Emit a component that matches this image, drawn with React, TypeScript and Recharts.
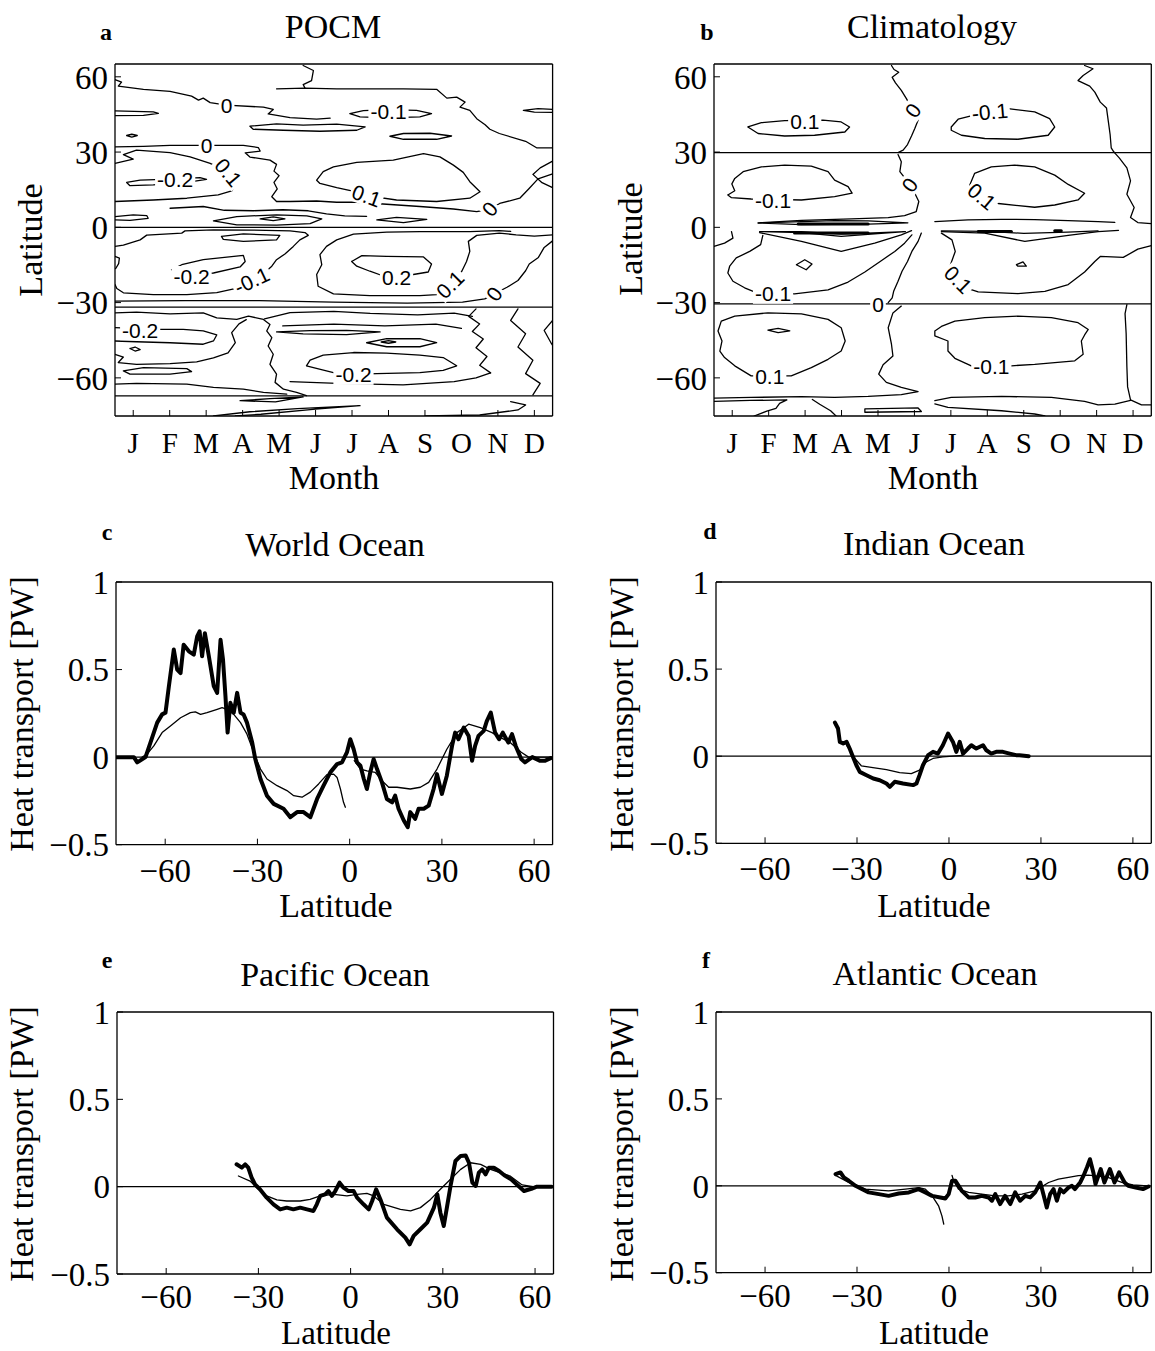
import React from "react";
import { ComposedChart, Line, Scatter, XAxis, YAxis, ReferenceLine } from "recharts";

const SERIF = '"Liberation Serif", "Times New Roman", Times, serif';
const SANS = '"Liberation Sans", Arial, Helvetica, sans-serif';

// ---- axes ----
const MONTHS = ["J", "F", "M", "A", "M", "J", "J", "A", "S", "O", "N", "D"];
const MONTH_TICKS = [1, 2, 3, 4, 5, 6, 7, 8, 9, 10, 11, 12];
const LAT_TICKS = [-60, -30, 0, 30, 60];
const PW_TICKS = [-0.5, 0, 0.5, 1];
const MONTH_DOMAIN: [number, number] = [0.5, 12.5];
const CONTOUR_LAT: [number, number] = [-75.2, 65.1];
const LINE_LAT: [number, number] = [-76, 66];
const PW_DOMAIN: [number, number] = [-0.5, 1];

// ---- panel a: POCM contours, [month, latitude] ----
const pTop0 = [[0.5, 58.9], [0.68, 57.9], [0.59, 56.3], [1.28, 55.0], [2.01, 54.2], [2.6, 52.3], [2.79, 50.7], [2.92, 51.5], [3.11, 49.7], [3.56, 48.7], [4.57, 47.9], [4.84, 47.0], [4.7, 45.2], [5.3, 43.7], [6.03, 43.1], [6.4, 43.5]];
const pTopWiggle = [[5.66, 64.5], [5.94, 62.5], [5.89, 58.5], [5.66, 56.9], [5.71, 55.5]];
const pTop55 = [[4.93, 55.2], [5.71, 55.5], [6.58, 55.2], [7.49, 55.2], [8.41, 55.2], [9.32, 55.0], [9.6, 51.5], [9.87, 51.9], [10.1, 49.9], [9.96, 47.9], [10.23, 46.6], [10.42, 43.3], [10.65, 40.9], [10.78, 39.1], [11.04, 37.4], [11.76, 34.3], [12.06, 31.7], [12.5, 31.7]];
const pEllA = [[6.94, 45.3], [7.31, 46.5], [7.95, 46.9], [8.77, 46.6], [9.18, 45.3], [8.86, 44.0], [7.95, 43.6], [7.22, 44.0], [6.94, 45.3]];
const pEllB = [[4.2, 40.3], [4.93, 41.2], [5.66, 40.7], [6.58, 41.1], [7.36, 40.0], [7.13, 38.7], [6.12, 38.3], [5.12, 38.7], [4.29, 39.1], [4.2, 40.3]];
const pEllC = [[8.04, 36.3], [8.41, 37.4], [9.14, 37.5], [9.73, 36.4], [9.32, 35.1], [8.41, 35.1], [8.04, 36.3]];
const pEllD = [[0.5, 46.4], [1.55, 46.0], [1.69, 45.4], [1.28, 44.6], [0.5, 44.5]];
const pEllE = [[0.82, 36.6], [0.96, 37.1], [1.11, 36.6], [0.96, 36.0], [0.82, 36.6]];
const pEllF = [[11.7, 46.6], [12.1, 47.3], [12.5, 47.0], [12.5, 45.8], [12.0, 45.9], [11.7, 46.6]];
const pMid0 = [[0.5, 32.1], [1.28, 32.3], [2.01, 32.7], [3.01, 32.7], [4.02, 32.7], [4.43, 31.8], [4.48, 30.4], [4.07, 29.7], [4.2, 28.0], [4.75, 26.8], [4.93, 25.1], [4.86, 22.4], [5.0, 20.6], [4.86, 17.9], [4.95, 15.3], [4.8, 12.2], [4.93, 10.3], [5.3, 10.3], [6.03, 10.5], [6.58, 10.0], [7.13, 10.0], [7.95, 9.2], [8.86, 8.3], [9.78, 7.3], [10.42, 6.3], [10.78, 7.3], [11.05, 9.5], [11.6, 11.6], [11.85, 15.4], [12.1, 19.3], [12.5, 21.3]];
const pP01 = [[0.5, 25.5], [1.0, 27.2], [0.73, 29.0], [1.09, 30.8], [2.01, 29.8], [2.56, 28.1], [3.11, 25.5], [3.61, 21.9], [3.88, 18.5], [3.79, 16.6], [3.7, 14.5], [3.33, 12.9], [2.47, 11.6], [1.55, 10.9], [0.5, 10.3]];
const pM02 = [[0.82, 17.9], [1.19, 18.8], [2.01, 19.2], [2.83, 19.8], [3.01, 19.1], [2.47, 17.9], [1.55, 16.9], [0.91, 16.6], [0.82, 17.9]];
const pBig01 = [[6.03, 18.8], [6.21, 22.2], [6.49, 24.1], [7.13, 25.9], [8.13, 26.8], [8.96, 29.4], [9.41, 28.1], [9.78, 24.8], [10.05, 21.9], [10.23, 18.2], [10.51, 14.2], [10.23, 11.6], [9.32, 10.3], [8.22, 10.9], [7.4, 12.6], [6.99, 14.5], [6.58, 15.8], [6.12, 17.5], [6.03, 18.8]];
const pNEdge = [[12.5, 26.4], [12.16, 23.7], [11.96, 21.1], [12.21, 17.8], [12.5, 15.8]];
const pEqA = [[0.5, 4.3], [1.0, 5.0], [1.37, 4.7], [1.41, 3.6], [0.91, 2.8], [0.5, 3.0]];
const pEqLine = [[2.01, 7.6], [2.92, 8.3], [3.5, 6.8], [4.3, 6.6], [5.1, 7.0], [5.8, 6.6], [6.3, 5.4], [6.8, 4.6], [7.4, 4.4]];
const pEqB = [[3.2, 2.6], [3.84, 4.3], [4.93, 5.0], [5.76, 4.6], [6.17, 3.4], [5.85, 1.5], [4.93, 0.9], [3.84, 1.0], [3.2, 2.6]];
const pEqC = [[4.48, 3.4], [4.84, 4.2], [5.16, 3.4], [4.84, 2.7], [4.48, 3.4]];
const pEqD = [[7.68, 3.0], [8.22, 4.0], [9.05, 3.2], [8.41, 1.9], [7.68, 3.0]];
const pEquator = [[0.5, 0], [12.5, 0]];
const pS01 = [[0.5, -7.6], [0.73, -7.1], [1.19, -5.0], [1.37, -3.1], [2.33, -2.3], [2.42, -1.4], [3.2, -1.0], [4.29, -1.1], [5.3, -1.4], [5.71, -2.1], [5.8, -3.2], [5.57, -5.0], [5.39, -7.6], [5.16, -10.6], [4.93, -12.9], [4.8, -15.5], [4.66, -17.3], [4.25, -21.2], [3.79, -24.4], [3.29, -26.0], [2.47, -26.8], [1.55, -26.8], [0.73, -26.1], [0.55, -24.4], [0.5, -22.8]];
const pSEdge = [[0.5, -11.6], [0.62, -12.3], [0.6, -14.5], [0.52, -16.4], [0.5, -16.5]];
const pSEll = [[3.42, -3.6], [4.02, -2.6], [5.02, -3.2], [4.93, -5.0], [4.02, -5.6], [3.47, -4.8], [3.42, -3.6]];
const pS02 = [[2.05, -16.9], [2.33, -14.9], [2.92, -12.9], [4.02, -11.2], [4.07, -13.6], [3.93, -15.8], [3.2, -18.2], [2.65, -18.8], [2.05, -16.9]];
const pS01r = [[12.5, -3.0], [12.0, -3.5], [11.5, -3.0], [11.04, -2.3], [10.42, -3.2], [10.19, -5.6], [10.23, -9.6], [10.14, -13.6], [10.01, -17.5], [9.69, -22.8], [9.32, -26.8], [8.86, -27.2], [7.49, -27.2], [6.49, -26.5], [6.07, -23.5], [6.03, -18.8], [6.17, -14.9], [6.12, -10.9], [6.3, -7.6], [6.58, -5.0], [7.04, -2.7], [7.95, -1.9], [8.86, -1.7], [10.23, -1.7], [11.04, -1.3], [11.35, -1.6]];
const pS02r = [[6.99, -13.6], [7.27, -11.3], [7.95, -11.6], [8.96, -11.8], [9.18, -14.6], [9.09, -17.8], [8.68, -18.8], [8.22, -20.0], [7.86, -19.4], [7.49, -17.5], [7.13, -15.5], [6.99, -13.6]];
const pS0r = [[12.5, -5.4], [12.27, -8.0], [12.11, -12.0], [11.86, -14.6], [11.76, -17.3], [11.55, -21.2], [11.25, -23.9], [10.9, -26.5], [10.64, -28.5], [10.03, -29.8], [8.51, -30.2], [6.48, -29.8], [4.46, -29.2], [2.43, -29.2], [0.5, -29.4]];
const pS30 = [[0.5, -31.8], [12.5, -31.8]];
const pSa = [[0.5, -34.1], [1.09, -33.8], [2.01, -34.5], [2.92, -34.1], [3.29, -36.1], [3.84, -36.7], [4.16, -35.4], [4.57, -36.7], [4.75, -38.7], [4.66, -41.3], [4.8, -44.0], [4.7, -47.3], [4.84, -50.6], [4.75, -54.6], [4.93, -58.5], [4.89, -61.8], [5.12, -64.5], [5.48, -65.8], [5.75, -67.1]];
const pSb = [[4.6, -36.5], [5.3, -34.0], [6.5, -33.5], [7.5, -34.3], [8.8, -34.9], [9.8, -34.2], [10.3, -35.5]];
const pSc = [[5.1, -39.3], [6.5, -38.6], [7.9, -39.3], [9.3, -38.6], [10.0, -40.3]];
const pS02l = [[0.5, -40.0], [1.69, -40.7], [2.37, -40.7], [2.92, -41.3], [3.29, -42.9], [3.2, -45.3], [2.92, -46.6], [2.01, -46.0], [1.09, -45.6], [0.5, -45.3]];
const pSDot = [[0.91, -48.3], [1.05, -47.7], [1.19, -48.7], [1.05, -49.3], [0.91, -48.3]];
const pSd = [[0.5, -50.6], [0.73, -51.7], [0.59, -53.9], [1.09, -54.6], [2.01, -54.3], [2.74, -53.6], [3.2, -52.0], [3.6, -50.0], [3.8, -46.0], [3.7, -42.0], [3.9, -38.5], [4.1, -36.8]];
const pSEll2 = [[0.73, -57.2], [1.28, -55.9], [2.47, -56.3], [2.6, -57.5], [2.01, -58.5], [0.91, -58.5], [0.73, -57.2]];
const pSe = [[0.5, -62.5], [1.09, -62.2], [2.47, -62.5], [3.2, -63.8], [4.02, -64.5], [4.57, -65.8], [5.21, -66.5]];
const pSEll3 = [[4.93, -41.7], [5.85, -41.2], [6.85, -41.1], [7.77, -41.7], [6.85, -42.8], [5.66, -42.5], [4.93, -41.7]];
const pSEll4 = [[7.4, -46.0], [7.95, -44.4], [8.86, -44.4], [9.32, -46.0], [8.86, -47.6], [7.95, -47.6], [7.4, -46.0]];
const pSEll5 = [[7.8, -45.7], [8.0, -45.2], [8.2, -45.7], [8.0, -46.2], [7.8, -45.7]];
const pS02b = [[5.75, -55.2], [6.49, -57.9], [7.04, -58.6], [7.68, -58.3], [8.86, -57.9], [9.5, -57.0], [9.87, -55.2], [9.5, -51.9], [8.86, -50.9], [7.95, -50.1], [7.04, -49.9], [6.21, -50.9], [5.85, -52.9], [5.75, -55.2]];
const pSf = [[5.3, -61.5], [6.6, -62.2], [8.4, -62.8], [9.8, -61.5], [10.4, -60.0], [10.8, -58.0]];
const pSg = [[10.4, -32.5], [10.2, -35.5], [10.5, -38.5], [10.3, -41.5], [10.6, -44.5], [10.4, -48.0], [10.7, -51.5], [10.5, -55.0], [10.8, -58.0]];
const pSh = [[11.55, -32.5], [11.35, -37.1], [11.76, -42.4], [11.55, -47.7], [11.96, -53.0], [11.76, -58.3], [12.16, -62.2], [11.96, -66.8]];
const pSi = [[12.5, -37.1], [12.27, -41.1], [12.47, -46.4], [12.5, -47.0]];
const pS67 = [[0.5, -67.2], [12.5, -67.2]];
const pBotA = [[3.93, -69.1], [4.75, -68.3], [5.66, -67.6], [4.9, -69.6], [3.93, -69.1]];
const pBotB = [[3.2, -75.2], [4.2, -73.5], [5.5, -72.3], [7.22, -71.1], [6.0, -72.5], [4.5, -74.5], [3.8, -75.2]];
const pBotC = [[11.35, -69.5], [11.76, -70.8], [11.55, -72.8], [10.5, -74.8], [9.0, -75.2]];

const pocmLines = [pTop0, pTopWiggle, pTop55, pEllA, pEllB, pEllC, pEllD, pEllE, pEllF, pMid0, pP01, pM02, pBig01, pNEdge, pEqA, pEqLine, pEqB, pEqC, pEqD, pEquator, pS01, pSEdge, pSEll, pS02, pS01r, pS02r, pS0r, pS30, pSa, pSb, pSc, pS02l, pSDot, pSd, pSEll2, pSe, pSEll3, pSEll4, pSEll5, pS02b, pSf, pSg, pSh, pSi, pS67, pBotA, pBotB, pBotC];

// contour labels: [month, latitude, text, angle]
const pocmLabels: [number, number, string, number][] = [
  [3.56, 48.7, "0", 0], [8.0, 46.2, "-0.1", 0], [3.01, 32.7, "0", 0], [2.15, 19.2, "-0.2", 0],
  [3.61, 21.9, "0.1", 50], [7.4, 12.6, "0.1", 20], [10.78, 7.3, "0", -50], [2.6, -19.4, "-0.2", 0],
  [4.25, -21.2, "-0.1", -25], [8.22, -20.0, "0.2", 0], [9.69, -22.8, "0.1", -45], [10.9, -26.5, "0", -55],
  [1.19, -41.0, "-0.2", 0], [7.04, -58.8, "-0.2", 0],
];

// ---- panel b: climatology contours ----
const c30 = [[0.5, 29.8], [12.5, 29.8]];
const cM30 = [[0.5, -30.5], [12.5, -30.5]];
const cTopL = [[1.43, 40.0], [1.8, 41.7], [2.44, 42.5], [3.49, 42.7], [3.99, 42.0], [4.22, 40.0], [4.09, 38.0], [3.26, 36.7], [2.44, 36.4], [1.71, 37.4], [1.43, 40.0]];
const cTopR = [[7.01, 40.0], [7.2, 43.1], [7.61, 44.6], [8.57, 47.3], [9.3, 46.0], [9.71, 43.3], [9.85, 40.0], [9.67, 36.7], [8.84, 35.1], [7.93, 35.4], [7.29, 36.7], [7.01, 38.7], [7.01, 40.0]];
const cTop0 = [[5.37, 64.5], [5.44, 62.9], [5.57, 61.8], [5.39, 59.8], [5.48, 57.6], [5.64, 54.6], [5.78, 51.3], [5.96, 46.6], [6.1, 42.7], [6.01, 39.4], [5.92, 36.4], [5.81, 33.0], [5.69, 30.8], [5.55, 29.8]];
const cTopEdge = [[10.67, 64.5], [10.9, 63.2], [10.63, 60.5], [10.49, 58.5], [10.81, 56.3], [10.95, 53.9], [11.1, 49.9], [11.27, 47.6], [11.32, 42.3], [11.37, 37.0], [11.4, 31.7], [11.47, 30.1]];
const cMidL = [[0.88, 12.9], [1.07, 14.6], [0.99, 17.3], [1.07, 19.5], [1.3, 22.2], [1.8, 24.1], [2.44, 24.8], [3.17, 24.4], [3.63, 22.2], [3.81, 18.8], [4.18, 16.2], [4.29, 13.6], [3.81, 12.2], [2.9, 10.9], [1.52, 11.3], [0.98, 11.8], [0.88, 12.9]];
const cMidR = [[7.56, 14.8], [7.52, 16.9], [7.65, 21.5], [8.11, 24.1], [8.75, 24.8], [9.3, 24.1], [9.85, 20.8], [10.22, 17.1], [10.67, 13.6], [10.49, 10.9], [9.85, 8.9], [9.3, 8.0], [8.3, 9.5], [7.85, 12.3], [7.56, 14.8]];
const cMid0 = [[5.55, 29.0], [5.64, 26.1], [5.6, 22.2], [5.73, 19.8], [6.01, 13.6], [6.12, 10.3], [6.05, 6.3], [5.73, 4.7], [5.28, 3.9], [4.27, 3.4], [2.9, 2.8], [1.71, 1.8]];
const cEqR = [[6.56, 2.3], [7.47, 3.0], [8.39, 3.2], [9.3, 3.1], [10.22, 2.7], [11.04, 2.3], [11.5, 2.0]];
const cEdgeR = [[11.47, 30.1], [11.62, 27.7], [11.83, 23.7], [11.93, 18.5], [11.83, 13.2], [12.03, 7.9], [11.93, 3.9], [12.13, 1.9], [12.5, 1.5]];
const cEqL = [[1.71, 1.7], [2.9, 2.3], [3.81, 2.7], [4.73, 2.6], [5.82, 1.8], [4.73, 1.3], [2.9, 1.1], [1.71, 1.7]];
const cV1 = [[1.75, -1.7], [2.9, -2.1], [3.99, -3.6], [5.09, -2.4], [5.75, -1.7], [3.99, -2.7], [2.9, -1.7], [1.75, -1.7]];
const cV2 = [[1.75, -2.1], [2.9, -5.6], [3.99, -9.6], [4.91, -6.3], [5.64, -3.0], [5.92, -1.3]];
const cU = [[1.84, -3.2], [1.78, -6.9], [1.48, -9.6], [1.11, -12.2], [0.93, -15.5], [0.88, -18.2], [1.02, -21.5], [1.34, -24.1], [1.66, -26.0], [2.71, -26.5], [3.63, -24.9], [4.18, -21.8], [4.64, -17.8], [5.09, -13.3], [5.46, -9.6], [5.73, -6.3], [5.93, -3.0]];
const cDotA = [[2.76, -14.9], [2.99, -12.9], [3.19, -14.6], [3.03, -16.9], [2.76, -14.9]];
const cEdgeL = [[0.5, -7.6], [0.79, -6.3], [1.02, -4.3], [0.98, -1.7]];
const cLow0 = [[5.28, -30.0], [5.39, -28.1], [5.43, -25.5], [5.55, -21.5], [5.66, -17.5], [5.81, -13.6], [5.93, -9.6], [6.1, -5.6], [6.19, -2.3]];
const cRU = [[6.74, -2.3], [7.03, -5.0], [7.12, -9.6], [6.99, -14.9], [6.95, -16.9], [7.2, -20.8], [7.47, -24.4], [7.75, -25.7], [8.84, -26.4], [9.58, -25.5], [10.22, -22.8], [10.67, -17.8], [10.95, -13.6], [11.1, -11.6], [11.73, -12.0], [12.13, -8.7], [12.5, -7.3]];
const cV3 = [[6.74, -1.7], [7.93, -2.3], [9.03, -5.6], [10.22, -3.2], [11.04, -1.7], [11.6, -1.2]];
const cV4 = [[6.74, -1.4], [8.0, -1.6], [9.0, -2.4], [10.2, -1.9], [11.04, -1.4]];
const cDotB = [[8.8, -14.9], [8.98, -13.8], [9.07, -15.5], [8.84, -15.5], [8.8, -14.9]];
const cSL = [[0.7, -37.4], [1.07, -35.4], [1.98, -34.1], [2.9, -34.5], [3.63, -36.7], [3.99, -40.0], [4.1, -45.3], [3.99, -49.3], [3.63, -52.6], [3.17, -55.9], [2.62, -59.2], [1.52, -59.2], [1.07, -55.2], [0.79, -51.9], [0.66, -49.3], [0.72, -45.3], [0.61, -41.3], [0.7, -37.4]];
const cDotC = [[1.98, -41.0], [2.26, -40.3], [2.58, -41.3], [2.26, -42.0], [1.98, -41.0]];
const cS0 = [[5.64, -31.4], [5.41, -34.1], [5.28, -40.0], [5.37, -46.6], [5.41, -51.3], [5.14, -54.8], [5.02, -58.5], [5.23, -61.8], [5.64, -63.8], [6.1, -65.5], [5.64, -66.7], [4.73, -67.4], [3.81, -67.8], [2.9, -67.5], [1.52, -67.8], [0.5, -68.1]];
const cSR = [[6.56, -41.3], [6.74, -39.5], [7.11, -37.4], [7.93, -36.0], [8.84, -35.4], [9.76, -36.0], [10.49, -38.0], [10.77, -40.7], [10.67, -42.9], [10.58, -45.3], [10.63, -50.6], [10.4, -53.2], [9.3, -54.6], [8.66, -55.2], [7.56, -55.2], [7.11, -52.2], [6.92, -49.3], [6.92, -45.3], [6.56, -43.3], [6.56, -41.3]];
const cEdgeR2 = [[11.83, -30.8], [11.78, -34.4], [11.81, -42.4], [11.83, -55.6], [11.85, -63.6], [11.93, -68.8], [12.23, -70.8], [12.5, -70.8]];
const cBotA = [[0.5, -69.4], [1.5, -69.0], [2.5, -68.8], [2.3, -70.2], [2.2, -72.2], [1.95, -73.3], [1.6, -75.2]];
const cBotB = [[3.2, -68.6], [3.4, -70.5], [3.7, -73.1], [3.85, -75.2]];
const cBotC = [[4.64, -72.4], [6.1, -72.0], [6.19, -73.4], [4.64, -73.7], [4.64, -72.4]];
const cBotD = [[6.56, -69.1], [7.01, -67.8], [8.39, -67.4], [9.76, -67.8], [10.67, -69.4], [11.04, -70.8], [11.5, -70.5], [11.93, -69.0]];
const cBotE = [[6.56, -70.4], [6.92, -71.8], [8.39, -73.1], [9.3, -74.4], [9.58, -75.2]];

const climLines = [c30, cM30, cTopL, cTopR, cTop0, cTopEdge, cMidL, cMidR, cMid0, cEqR, cEdgeR, cEqL, cV1, cV2, cU, cDotA, cEdgeL, cLow0, cRU, cV3, cV4, cDotB, cSL, cDotC, cS0, cSR, cEdgeR2, cBotA, cBotB, cBotC, cBotD, cBotE];
// short heavy strokes along the equator
const climHeavy = [[[2.81, 1.3], [4.73, 1.3]], [[2.71, -2.3], [4.73, -2.3]], [[7.75, -1.7], [8.66, -1.7]], [[9.85, -1.4], [10.03, -1.4]]];

const climLabels: [number, number, string, number][] = [
  [2.99, 42.2, "0.1", 0], [8.07, 46.0, "-0.1", -5], [5.96, 46.6, "0", -55], [2.12, 10.6, "-0.1", 0],
  [7.85, 12.3, "0.1", 40], [5.87, 16.9, "0", -55], [2.12, -26.5, "-0.1", 0], [7.2, -20.8, "0.1", 45],
  [5.0, -30.6, "0", 0], [2.03, -59.5, "0.1", 0], [8.11, -55.4, "-0.1", 0],
];

// ---- panels c-f: heat transport, [latitude, PW] ----
const worldPocm = [[-76.2, 0.0], [-70.2, 0.0], [-69.1, -0.03], [-66.4, 0.0], [-64.8, 0.083], [-62.6, 0.197], [-61.0, 0.244], [-59.9, 0.254], [-58.8, 0.405], [-57.2, 0.614], [-56.1, 0.5], [-55.0, 0.48], [-54.0, 0.642], [-52.3, 0.604], [-50.7, 0.585], [-49.6, 0.689], [-48.8, 0.718], [-48.0, 0.576], [-47.1, 0.708], [-45.8, 0.576], [-44.2, 0.405], [-43.1, 0.367], [-42.0, 0.67], [-41.2, 0.557], [-40.4, 0.348], [-39.7, 0.14], [-38.8, 0.31], [-37.7, 0.254], [-36.6, 0.367], [-35.5, 0.254], [-34.5, 0.244], [-33.4, 0.197], [-31.7, 0.083], [-30.7, -0.011], [-29.0, -0.125], [-26.9, -0.22], [-24.7, -0.267], [-21.5, -0.295], [-19.3, -0.343], [-17.1, -0.314], [-15.0, -0.314], [-12.8, -0.343], [-10.6, -0.239], [-8.5, -0.163], [-6.3, -0.087], [-4.1, -0.04], [-2.5, -0.03], [-0.9, 0.027], [0.2, 0.102], [1.3, 0.045], [2.4, -0.03], [3.5, -0.049], [4.6, -0.125], [5.6, -0.182], [6.7, -0.087], [7.8, -0.011], [8.9, -0.068], [10.5, -0.144], [12.1, -0.239], [13.8, -0.258], [14.8, -0.22], [15.9, -0.295], [17.6, -0.362], [18.9, -0.4], [19.7, -0.314], [21.3, -0.352], [22.4, -0.295], [24.1, -0.295], [25.7, -0.277], [27.3, -0.182], [28.4, -0.097], [30.0, -0.21], [31.6, -0.106], [33.3, 0.064], [34.3, 0.14], [35.4, 0.102], [37.1, 0.169], [38.7, 0.121], [39.8, -0.021], [40.8, 0.064], [41.9, 0.121], [43.6, 0.15], [44.6, 0.206], [45.9, 0.254], [47.3, 0.14], [48.6, 0.102], [49.8, 0.14], [51.6, 0.083], [52.8, 0.131], [54.0, 0.064], [55.8, -0.011], [57.0, -0.03], [59.4, 0.0], [61.8, -0.02], [63.6, -0.02], [65.4, -0.006]];
const worldClimS = [[-67.5, 0.0], [-65.9, 0.017], [-63.7, 0.064], [-61.0, 0.14], [-58.3, 0.178], [-55.0, 0.225], [-51.8, 0.254], [-50.2, 0.258], [-48.5, 0.244], [-46.4, 0.254], [-43.1, 0.273], [-41.5, 0.282], [-39.9, 0.273], [-37.7, 0.244], [-35.5, 0.197], [-33.4, 0.131], [-31.2, 0.027], [-29.0, -0.068], [-26.9, -0.125], [-23.6, -0.163], [-20.4, -0.191], [-18.2, -0.22], [-15.5, -0.229], [-12.8, -0.2], [-10.1, -0.153], [-7.4, -0.1], [-5.2, -0.097], [-4.1, -0.116], [-3.0, -0.182], [-2.0, -0.258], [-1.4, -0.286]];
const worldClimN = [[1.5, -0.02], [3.5, -0.068], [5.6, -0.078], [8.3, -0.087], [10.5, -0.134], [12.7, -0.172], [15.4, -0.172], [19.7, -0.182], [23.0, -0.172], [25.7, -0.144], [28.4, -0.068], [31.6, 0.045], [34.9, 0.14], [38.7, 0.188], [42.5, 0.169], [46.3, 0.14], [48.1, 0.121], [52.2, 0.083], [55.8, 0.028], [58.2, 0.0], [61.8, 0.0], [65.4, 0.0]];

const indianPocm = [[-37.2, 0.193], [-36.2, 0.159], [-35.6, 0.082], [-34.5, 0.073], [-33.4, 0.082], [-32.4, 0.044], [-31.3, -0.004], [-30.2, -0.052], [-29.1, -0.09], [-26.9, -0.109], [-24.7, -0.128], [-22.6, -0.138], [-20.4, -0.157], [-19.3, -0.176], [-17.7, -0.147], [-15.0, -0.157], [-11.7, -0.166], [-10.6, -0.157], [-9.6, -0.109], [-8.5, -0.052], [-6.8, 0.006], [-5.2, 0.025], [-3.6, 0.015], [-2.0, 0.063], [-0.3, 0.13], [1.3, 0.082], [2.4, 0.025], [3.5, 0.082], [4.6, 0.015], [6.2, 0.044], [7.3, 0.063], [8.9, 0.044], [11.1, 0.063], [12.2, 0.034], [13.8, 0.015], [15.4, 0.025], [17.6, 0.025], [19.8, 0.015], [21.9, 0.006], [23.0, 0.006], [26.0, 0.0]];
const indianClim = [[-33.4, 0.063], [-30.7, -0.013], [-28.6, -0.055], [-24.8, -0.065], [-20.4, -0.077], [-16.1, -0.094], [-12.3, -0.1], [-9.6, -0.08], [-7.4, -0.033], [-5.2, -0.013], [-2.0, -0.004], [4.5, 0.005]];

const pacificPocm = [[-37.1, 0.128], [-35.4, 0.109], [-34.3, 0.128], [-33.3, 0.109], [-32.2, 0.052], [-31.1, 0.013], [-29.5, -0.015], [-27.3, -0.063], [-25.1, -0.101], [-22.9, -0.13], [-20.8, -0.12], [-18.6, -0.13], [-16.4, -0.12], [-14.2, -0.13], [-12.1, -0.139], [-11.0, -0.101], [-9.9, -0.053], [-8.3, -0.044], [-7.2, -0.025], [-6.1, -0.053], [-5.0, -0.025], [-3.6, 0.023], [-2.3, -0.006], [-0.7, -0.025], [1.0, -0.025], [2.1, -0.063], [4.2, -0.101], [5.9, -0.13], [7.0, -0.082], [8.3, -0.015], [9.7, -0.073], [11.8, -0.177], [15.1, -0.244], [17.8, -0.292], [19.2, -0.33], [20.5, -0.282], [22.7, -0.244], [24.9, -0.206], [27.1, -0.12], [28.2, -0.044], [29.2, -0.149], [30.3, -0.225], [31.4, -0.111], [32.5, 0.004], [34.1, 0.147], [35.8, 0.176], [37.4, 0.179], [38.5, 0.137], [39.6, 0.023], [40.7, 0.004], [41.7, 0.08], [42.8, 0.099], [43.9, 0.071], [45.0, 0.109], [46.6, 0.109], [48.3, 0.09], [50.0, 0.065], [52.2, 0.042], [54.6, 0.004], [56.4, -0.025], [58.8, -0.012], [60.6, 0.0], [65.4, 0.0]];
const pacificClim = [[-36.5, 0.061], [-32.7, 0.032], [-30.5, -0.006], [-27.3, -0.053], [-24.0, -0.076], [-20.8, -0.082], [-16.4, -0.082], [-13.2, -0.073], [-9.9, -0.053], [-5.5, -0.044], [-1.2, -0.053], [2.1, -0.044], [5.3, -0.038], [7.5, -0.053], [10.8, -0.101], [16.2, -0.13], [19.5, -0.139], [22.7, -0.12], [26.0, -0.073], [29.2, -0.015], [32.5, 0.042], [35.8, 0.099], [39.0, 0.137], [42.3, 0.128], [45.5, 0.099], [52.0, 0.06], [55.8, 0.01], [59.4, 0.0]];

const atlanticPocm = [[-37.0, 0.067], [-35.4, 0.077], [-34.3, 0.048], [-32.7, 0.029], [-30.5, 0.0], [-28.3, -0.019], [-26.2, -0.038], [-22.9, -0.048], [-19.7, -0.058], [-16.4, -0.044], [-13.1, -0.038], [-9.9, -0.019], [-7.7, -0.038], [-5.5, -0.058], [-2.8, -0.067], [-1.2, -0.073], [-0.1, -0.048], [1.0, 0.029], [2.1, 0.029], [4.2, -0.029], [6.4, -0.067], [8.6, -0.067], [10.7, -0.058], [12.9, -0.067], [14.0, -0.086], [15.1, -0.048], [16.7, -0.105], [18.3, -0.058], [20.0, -0.105], [21.6, -0.038], [23.2, -0.086], [24.9, -0.058], [26.5, -0.067], [28.1, -0.038], [29.8, 0.019], [30.8, -0.048], [31.9, -0.125], [33.0, -0.048], [34.1, -0.019], [35.2, -0.086], [36.3, -0.019], [37.4, -0.038], [39.0, -0.01], [40.1, 0.0], [41.1, -0.019], [42.8, 0.019], [43.9, 0.058], [45.0, 0.105], [46.0, 0.153], [47.1, 0.077], [47.8, 0.01], [49.5, 0.096], [50.7, 0.019], [52.5, 0.096], [54.0, 0.019], [55.5, 0.077], [57.3, 0.019], [58.5, 0.0], [60.9, -0.01], [63.3, -0.019], [65.1, -0.004]];
const atlanticClimS = [[-37.0, 0.06], [-32.7, 0.019], [-27.3, -0.019], [-19.7, -0.029], [-14.2, -0.019], [-9.9, -0.01], [-7.7, -0.019], [-5.5, -0.058], [-3.4, -0.115], [-2.3, -0.173], [-1.7, -0.221]];
const atlanticClimN = [[1.0, 0.06], [1.5, 0.029], [3.1, -0.019], [6.4, -0.038], [10.7, -0.048], [15.1, -0.058], [19.4, -0.058], [23.8, -0.048], [28.1, -0.029], [32.5, 0.019], [35.7, 0.038], [39.0, 0.048], [42.2, 0.058], [45.5, 0.061], [51.6, 0.05], [56.4, 0.02], [60.0, 0.005], [64.8, 0.0]];

const minus = (v: number) => (v < 0 ? `\u2212${-v}` : `${v}`);
const monthName = (v: number) => MONTHS[v - 1] ?? "";
const pts = (arr: number[][]) => arr.map(([x, y]) => ({ x, y }));

function labelWidth(t: string) {
  let w = 0;
  for (const ch of t) w += ch === "-" ? 7 : ch === "." ? 5.8 : 11.7;
  return w + 4;
}

const ContourLabel = (p: any) => {
  const { cx, cy, payload } = p;
  if (cx == null || cy == null) return <g />;
  const w = labelWidth(payload.t);
  return (
    <g transform={`translate(${cx},${cy}) rotate(${payload.a})`}>
      <rect x={-w / 2} y={-10} width={w} height={20} fill="#fff" />
      <text x={0} y={7.5} textAnchor="middle" fontFamily={SANS} fontSize={21} fill="#000">
        {payload.t}
      </text>
    </g>
  );
};

type S = { d: number[][]; w: number };

interface PanelProps {
  frame: [number, number, number, number];
  xDomain: [number, number];
  xTicks: number[];
  xFmt: (v: number) => string;
  xMargin: number;
  xFont: number;
  yDomain: [number, number];
  yTicks: number[];
  series: S[];
  labels?: [number, number, string, number][];
  zero?: boolean;
}

// plot frame sits 90px from the left and 21px from the top of each chart box
function Panel({ frame, xDomain, xTicks, xFmt, xMargin, xFont, yDomain, yTicks, series, labels, zero }: PanelProps) {
  const [L, T, W, H] = frame;
  const axisLine = { stroke: "#000", strokeWidth: 1.3 };
  const tickLine = { stroke: "#000", strokeWidth: 1 };
  const yTickStyle = { fontFamily: SERIF, fontSize: 33, fill: "#000" };
  const xTickStyle = { fontFamily: SERIF, fontSize: xFont, fill: "#000" };
  return (
    <div style={{ position: "absolute", left: L - 90, top: T - 21 }}>
      <ComposedChart width={W + 100} height={H + 91} margin={{ top: 20, right: 9, bottom: 10, left: 10 }}>
        <XAxis xAxisId="b" dataKey="x" type="number" domain={xDomain} ticks={xTicks} interval={0} allowDataOverflow height={60}
          tickSize={-6} tickMargin={xMargin} tickFormatter={xFmt} tick={xTickStyle} axisLine={axisLine} tickLine={tickLine} />
        <XAxis xAxisId="t" orientation="top" dataKey="x" type="number" domain={xDomain} ticks={xTicks} interval={0} allowDataOverflow height={1}
          tickSize={-6} tick={false} axisLine={axisLine} tickLine={tickLine} />
        <YAxis yAxisId="l" type="number" domain={yDomain} ticks={yTicks} interval={0} allowDataOverflow width={80}
          tickSize={-6} tickMargin={13} tickFormatter={minus} tick={yTickStyle} axisLine={axisLine} tickLine={tickLine} />
        <YAxis yAxisId="r" orientation="right" type="number" domain={yDomain} ticks={yTicks} interval={0} allowDataOverflow width={1}
          tickSize={-6} tick={false} axisLine={axisLine} tickLine={tickLine} />
        {zero && <ReferenceLine xAxisId="b" yAxisId="l" y={0} stroke="#000" strokeWidth={1.2} />}
        {series.map((s, i) => (
          <Line key={i} xAxisId="b" yAxisId="l" data={pts(s.d)} dataKey="y" type="linear" dot={false} activeDot={false}
            stroke="#000" strokeWidth={s.w} strokeLinejoin="round" strokeLinecap="round" isAnimationActive={false} />
        ))}
        {labels && (
          <Scatter xAxisId="b" yAxisId="l" data={labels.map(([x, y, t, a]) => ({ x, y, t, a }))} dataKey="y"
            shape={(p: any) => <ContourLabel {...p} />} isAnimationActive={false} />
        )}
      </ComposedChart>
    </div>
  );
}

const contourProps = {
  xDomain: MONTH_DOMAIN, xTicks: MONTH_TICKS, xFmt: monthName, xMargin: 22, xFont: 29,
  yDomain: CONTOUR_LAT, yTicks: LAT_TICKS,
};
const lineProps = {
  xDomain: LINE_LAT, xTicks: LAT_TICKS, xFmt: minus, xMargin: 19.5, xFont: 33,
  yDomain: PW_DOMAIN, yTicks: PW_TICKS, zero: true,
};

const thick = (d: number[][]): S => ({ d, w: 4 });
const thin = (d: number[][]): S => ({ d, w: 1.3 });

const titles = [
  { x: 333, y: 38, t: "POCM" }, { x: 932, y: 38, t: "Climatology" },
  { x: 335, y: 556, t: "World Ocean" }, { x: 934, y: 555, t: "Indian Ocean" },
  { x: 335, y: 986, t: "Pacific Ocean" }, { x: 935, y: 985, t: "Atlantic Ocean" },
];
const letters = [
  { x: 106, y: 40, t: "a" }, { x: 707, y: 40, t: "b" }, { x: 107, y: 540, t: "c" },
  { x: 710, y: 539, t: "d" }, { x: 107, y: 968, t: "e" }, { x: 706, y: 968, t: "f" },
];
const xTitles = [
  { x: 334, y: 489, t: "Month", s: 34 }, { x: 933, y: 489, t: "Month", s: 34 },
  { x: 336, y: 917, t: "Latitude", s: 34 }, { x: 934, y: 917, t: "Latitude", s: 34 },
  { x: 336, y: 1344, t: "Latitude", s: 33 }, { x: 934, y: 1344, t: "Latitude", s: 33 },
];
const yTitles = [
  { x: 42, y: 240, t: "Latitude" }, { x: 642, y: 239, t: "Latitude" },
  { x: 33, y: 714, t: "Heat transport [PW]" }, { x: 633, y: 714, t: "Heat transport [PW]" },
  { x: 33, y: 1144, t: "Heat transport [PW]" }, { x: 633, y: 1144, t: "Heat transport [PW]" },
];

export default function App() {
  return (
    <div style={{ position: "absolute", left: 0, top: 0, width: 1155, height: 1351, background: "#fff", overflow: "hidden" }}>
      <Panel frame={[114.7, 64, 437.6, 352]} {...contourProps} series={pocmLines.map((d) => ({ d, w: 1.3 }))} labels={pocmLabels} />
      <Panel frame={[713.7, 64, 437.3, 352]} {...contourProps}
        series={[...climLines.map((d) => ({ d, w: 1.3 })), ...climHeavy.map((d) => ({ d, w: 3 }))]} labels={climLabels} />
      <Panel frame={[115.8, 582.3, 436.6, 262.7]} {...lineProps} series={[thin(worldClimS), thin(worldClimN), thick(worldPocm)]} />
      <Panel frame={[715.7, 582, 435.3, 261.3]} {...lineProps} series={[thin(indianClim), thick(indianPocm)]} />
      <Panel frame={[116.5, 1012, 436.5, 262]} {...lineProps} xMargin={16.5} series={[thin(pacificClim), thick(pacificPocm)]} />
      <Panel frame={[715.7, 1012, 435.3, 260.7]} {...lineProps} xMargin={16.5} series={[thin(atlanticClimS), thin(atlanticClimN), thick(atlanticPocm)]} />
      <svg width={1155} height={1351} style={{ position: "absolute", left: 0, top: 0, pointerEvents: "none" }}>
        {titles.map((d, i) => (
          <text key={`t${i}`} x={d.x} y={d.y} textAnchor="middle" fontFamily={SERIF} fontSize={34} fill="#000">{d.t}</text>
        ))}
        {letters.map((d, i) => (
          <text key={`l${i}`} x={d.x} y={d.y} textAnchor="middle" fontFamily={SERIF} fontSize={24} fontWeight="bold" fill="#000">{d.t}</text>
        ))}
        {xTitles.map((d, i) => (
          <text key={`x${i}`} x={d.x} y={d.y} textAnchor="middle" fontFamily={SERIF} fontSize={d.s} fill="#000">{d.t}</text>
        ))}
        {yTitles.map((d, i) => (
          <text key={`y${i}`} transform={`translate(${d.x},${d.y}) rotate(-90)`} textAnchor="middle" fontFamily={SERIF} fontSize={34} fill="#000">{d.t}</text>
        ))}
      </svg>
    </div>
  );
}
